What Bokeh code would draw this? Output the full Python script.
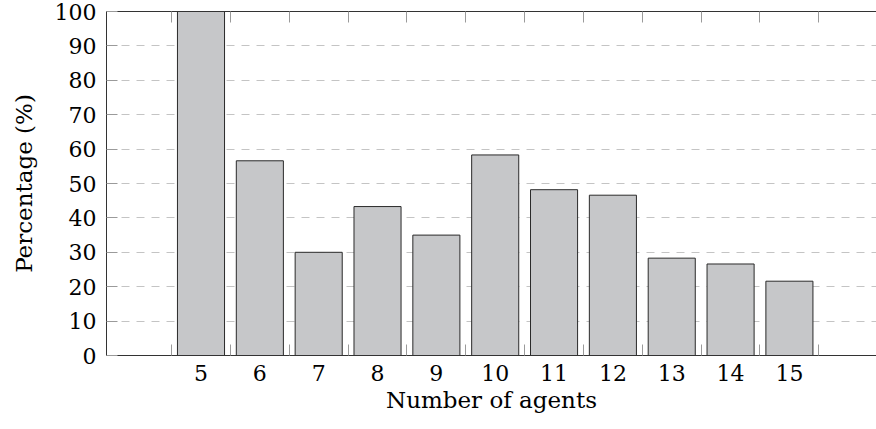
from bokeh.plotting import figure
from bokeh.models import FixedTicker, LinearAxis, Range1d
from bokeh.embed import file_html
from bokeh.resources import INLINE

agents = [5, 6, 7, 8, 9, 10, 11, 12, 13, 14, 15]
percentages = [100, 56.6, 30.0, 43.3, 35.0, 58.3, 48.2, 46.6, 28.3, 26.6, 21.6]
y_ticks = [0, 10, 20, 30, 40, 50, 60, 70, 80, 90, 100]
x_label = "Number of agents"
y_label = "Percentage (%)"

FONT = "DejaVu Serif"
FS = "22px"
FS_LABEL = "23px"
half_ticks = [a - 0.5 for a in agents] + [agents[-1] + 0.5]

p = figure(width=876, height=429, output_backend="svg", toolbar_location=None,
           x_range=Range1d(3.394, 16.48), y_range=Range1d(0, 100),
           min_border_left=106, min_border_right=0, min_border_top=11,
           min_border_bottom=74)

p.vbar(x=agents, top=percentages, width=0.8, bottom=0,
       fill_color="#c6c7c9", line_color="#2a2a2a", line_width=1)

p.outline_line_color = None

# x axis (bottom)
xa = p.xaxis[0]
xa.ticker = FixedTicker(ticks=agents, minor_ticks=half_ticks)
xa.major_tick_in = 0
xa.major_tick_out = 0
xa.minor_tick_in = 11
xa.minor_tick_out = 0
xa.minor_tick_line_color = "#9a9a9a"
xa.axis_line_color = "#333333"
xa.major_label_text_font = FONT
xa.major_label_text_font_size = FS
xa.major_label_text_color = "black"
xa.major_label_standoff = 9
xa.axis_label = x_label
xa.axis_label_text_font = FONT
xa.axis_label_text_font_size = FS_LABEL
xa.axis_label_text_font_style = "normal"
xa.axis_label_text_color = "black"
xa.axis_label_standoff = 3

# y axis (left)
ya = p.yaxis[0]
ya.ticker = FixedTicker(ticks=y_ticks)
ya.major_tick_in = 11
ya.major_tick_out = 0
ya.major_tick_line_color = "#9a9a9a"
ya.minor_tick_line_color = None
ya.axis_line_color = "#333333"
ya.major_label_text_font = FONT
ya.major_label_text_font_size = FS
ya.major_label_text_color = "black"
ya.major_label_standoff = 10
ya.axis_label = y_label
ya.axis_label_text_font = FONT
ya.axis_label_text_font_size = FS_LABEL
ya.axis_label_text_font_style = "normal"
ya.axis_label_text_color = "black"
ya.axis_label_standoff = 15

# top axis: only tick marks at bar boundaries, no labels
top = LinearAxis(ticker=FixedTicker(ticks=[], minor_ticks=half_ticks))
top.major_tick_line_color = None
top.minor_tick_in = 11
top.minor_tick_out = 0
top.minor_tick_line_color = "#9a9a9a"
top.axis_line_color = "#333333"
top.major_label_standoff = 0
p.add_layout(top, "above")

p.xgrid.grid_line_color = None
p.ygrid.grid_line_color = "#c4c4c4"
p.ygrid.grid_line_dash = "8 7"
p.ygrid.grid_line_width = 1

open("out.html", "w").write(file_html(p, INLINE))
